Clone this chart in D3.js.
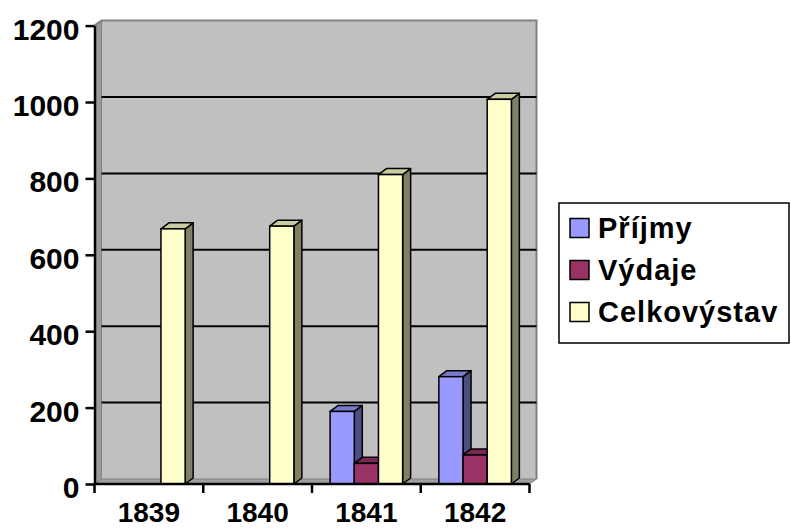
<!DOCTYPE html>
<html><head><meta charset="utf-8">
<script src="https://cdn.jsdelivr.net/npm/d3@7/dist/d3.min.js"></script>
<style>html,body{margin:0;padding:0;background:#fff;}svg{display:block;}</style>
</head><body>
<script>
const categories = ["1839", "1840", "1841", "1842"];
const seriesNames = ["Příjmy", "Výdaje", "Celkovýstav"];
const prijmy = [0, 0, 190, 281];
const vydaje = [0, 0, 54, 76];
const celkovystav = [668, 675, 810, 1007];
const yTicks = [0, 200, 400, 600, 800, 1000, 1200];

const seriesValues = [prijmy, vydaje, celkovystav];
const colors = [
  {front: "#9999FF", top: "#7A7ACC", side: "#4D4D80"},
  {front: "#993366", top: "#7A2952", side: "#4D1A33"},
  {front: "#FFFFCC", top: "#CCCCA3", side: "#808066"}
];

const W = 791, H = 529;
const svg = d3.select("body").append("svg").attr("width", W).attr("height", H);
const font = "'Liberation Sans', Arial, sans-serif";

const y = d3.scaleLinear().domain([0, 1200]).range([484, 25.6]);
const x = d3.scaleBand().domain(categories).range([94.5, 529.5]).padding(0);
const xs = d3.scaleBand().domain(seriesNames).range([0, x.bandwidth()]).paddingInner(0).paddingOuter(0.75);

const wdx = 7, wdy = -5;   // wall depth
const bdx = 8, bdy = -6;   // bar depth
const x0 = x.range()[0], x1 = x.range()[1];
const yb = y(0), yt = y(1200);

// back wall
svg.append("rect").attr("x", x0 + wdx).attr("y", yt + wdy).attr("width", x1 - x0).attr("height", yb - yt)
  .attr("fill", "#C0C0C0");
// left side wall
svg.append("polygon").attr("points", [[x0, yb], [x0, yt], [x0 + wdx, yt + wdy], [x0 + wdx, yb + wdy]].join(" "))
  .attr("fill", "#9A9A9A").attr("stroke", "#808080").attr("stroke-width", 1);
// floor
svg.append("polygon").attr("points", [[x0, yb], [x1, yb], [x1 + wdx, yb + wdy], [x0 + wdx, yb + wdy]].join(" "))
  .attr("fill", "#A0A0A0").attr("stroke", "#808080").attr("stroke-width", 1);
// wall border top/right
svg.append("polyline").attr("points", [[x0, yt], [x0 + wdx, yt + wdy], [x1 + wdx, yt + wdy], [x1 + wdx, yb + wdy]].join(" "))
  .attr("fill", "none").attr("stroke", "#808080").attr("stroke-width", 2);

// gridlines on back wall
svg.append("g").selectAll("line").data(yTicks.filter(v => v > 0 && v < 1200)).join("line")
  .attr("x1", x0 + wdx).attr("x2", x1 + wdx)
  .attr("y1", d => y(d) + wdy).attr("y2", d => y(d) + wdy)
  .attr("stroke", "#000").attr("stroke-width", 2);

// bars
const gb = svg.append("g");
categories.forEach((c, i) => {
  seriesNames.forEach((s, j) => {
    const v = seriesValues[j][i];
    if (!v) return;
    const bx = x(c) + xs(s), w = xs.bandwidth(), ty = y(v);
    const col = colors[j];
    gb.append("polygon")
      .attr("points", [[bx + w, yb], [bx + w, ty], [bx + w + bdx, ty + bdy], [bx + w + bdx, yb + bdy]].join(" "))
      .attr("fill", col.side).attr("stroke", "#000").attr("stroke-width", 1.5).attr("stroke-linejoin", "round");
    gb.append("polygon")
      .attr("points", [[bx, ty], [bx + bdx, ty + bdy], [bx + w + bdx, ty + bdy], [bx + w, ty]].join(" "))
      .attr("fill", col.top).attr("stroke", "#000").attr("stroke-width", 1.5).attr("stroke-linejoin", "round");
    gb.append("rect").attr("x", bx).attr("y", ty).attr("width", w).attr("height", yb - ty)
      .attr("fill", col.front).attr("stroke", "#000").attr("stroke-width", 1.5);
  });
});

// y axis
const yAxis = d3.axisLeft(y).tickValues(yTicks).tickFormat(d3.format("d")).tickSize(9).tickSizeOuter(0).tickPadding(6);
const gy = svg.append("g").attr("transform", `translate(${x0},0)`).call(yAxis);
gy.select(".domain").attr("stroke", "#000").attr("stroke-width", 2.5);
gy.selectAll(".tick line").attr("stroke", "#000").attr("stroke-width", 2.5);
gy.selectAll(".tick text").attr("font-family", font).attr("font-weight", "bold")
  .attr("font-size", 30).attr("fill", "#000").attr("dy", "0.45em");

// x axis
svg.append("line").attr("x1", x0).attr("x2", x1).attr("y1", yb).attr("y2", yb)
  .attr("stroke", "#000").attr("stroke-width", 2.5);
const bounds = categories.map(c => x(c)).concat([x1]);
svg.append("g").selectAll("line").data(bounds).join("line")
  .attr("x1", d => d).attr("x2", d => d).attr("y1", yb).attr("y2", yb + 9)
  .attr("stroke", "#000").attr("stroke-width", 2.5);
svg.append("g").selectAll("text").data(categories).join("text")
  .attr("x", d => x(d) + x.bandwidth() / 2).attr("y", 522)
  .attr("text-anchor", "middle").attr("font-family", font).attr("font-weight", "bold")
  .attr("font-size", 28).attr("fill", "#000").text(d => d);

// legend
const lg = svg.append("g");
lg.append("rect").attr("x", 559).attr("y", 203).attr("width", 230).attr("height", 140)
  .attr("fill", "#fff").attr("stroke", "#000").attr("stroke-width", 1.5);
seriesNames.forEach((s, j) => {
  const cy = 228 + j * 42;
  lg.append("rect").attr("x", 570).attr("y", cy - 9.5).attr("width", 19).attr("height", 19)
    .attr("fill", colors[j].front).attr("stroke", "#000").attr("stroke-width", 1.5);
  lg.append("text").attr("x", 598).attr("y", cy + 10).attr("font-family", font).attr("font-weight", "bold")
    .attr("font-size", 29).attr("letter-spacing", 1).attr("fill", "#000").text(s);
});
</script>
</body></html>
